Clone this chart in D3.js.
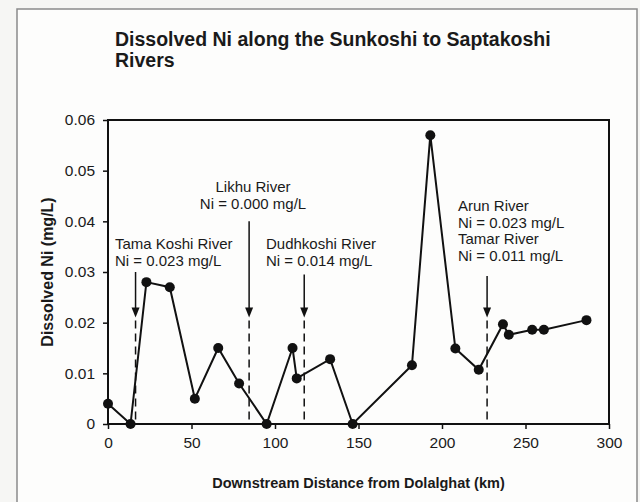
<!DOCTYPE html>
<html>
<head>
<meta charset="utf-8">
<script src="https://cdn.jsdelivr.net/npm/d3@7"></script>
<style>
  html, body { margin: 0; padding: 0; background: #f6f6f4; }
  svg { display: block; }
  text { font-family: "Liberation Sans", Arial, sans-serif; fill: #1a1a1a; }
</style>
</head>
<body>
<svg id="chart" width="640" height="502"></svg>
<script>
// ---- data ----
const distanceKm = [0, 13.5, 23, 37, 52, 66, 78.5, 95, 110.5, 113, 133, 146.5, 182, 193, 208, 222, 236.5, 240, 254, 261, 286.5];
const dissolvedNi = [0.004, 0, 0.028, 0.027, 0.005, 0.015, 0.008, 0, 0.015, 0.009, 0.0128, 0, 0.0116, 0.057, 0.0149, 0.0107, 0.0197, 0.0176, 0.0186, 0.0186, 0.0205];

const tributaryKm = [16.5, 84.5, 117.5, 227];
const tributaryTop = [0.03, 0.04, 0.0295, 0.0292];
const tributaryLines = [
  ["Tama Koshi River", "Ni = 0.023 mg/L"],
  ["Likhu River", "Ni = 0.000 mg/L"],
  ["Dudhkoshi River", "Ni = 0.014 mg/L"],
  ["Arun River", "Ni = 0.023 mg/L", "Tamar River", "Ni = 0.011 mg/L"]
];
const arrowTipValue = 0.021;

const xTicks = [0, 50, 100, 150, 200, 250, 300];
const yTicks = [0, 0.01, 0.02, 0.03, 0.04, 0.05, 0.06];
const yTickLabels = ["0", "0.01", "0.02", "0.03", "0.04", "0.05", "0.06"];

const titleLines = ["Dissolved Ni along the Sunkoshi to Saptakoshi", "Rivers"];
const xTitle = "Downstream Distance from Dolalghat (km)";
const yTitle = "Dissolved Ni (mg/L)";

// ---- layout ----
const svg = d3.select("#chart");
const L = 108, R = 609, T = 120, B = 424;
const x = d3.scaleLinear().domain([0, 300]).range([L, R]);
const y = d3.scaleLinear().domain([0, 0.06]).range([B, T]);

// outer frame
svg.append("rect").attr("x", 17).attr("y", 9).attr("width", 620).attr("height", 500)
  .attr("fill", "#fdfdfc").attr("stroke", "#8a8a8a").attr("stroke-width", 1.5);

// title
const title = svg.append("text").attr("x", 115).attr("y", 46)
  .style("font-weight", "bold").style("font-size", "19.5px");
titleLines.forEach((t, i) => title.append("tspan").attr("x", 115).attr("dy", i ? 21 : 0).text(t));

// plot frame
svg.append("rect").attr("x", L).attr("y", T).attr("width", R - L).attr("height", B - T)
  .attr("fill", "none").attr("stroke", "#111").attr("stroke-width", 2);

// axes
const xAxis = svg.append("g").attr("transform", `translate(0,${B})`)
  .call(d3.axisBottom(x).tickValues(xTicks).tickSize(5).tickPadding(8).tickFormat(d3.format("d")));
const yAxis = svg.append("g").attr("transform", `translate(${L},0)`)
  .call(d3.axisLeft(y).tickValues(yTicks).tickSize(5).tickPadding(8).tickFormat((d, i) => yTickLabels[i]));
[xAxis, yAxis].forEach(g => {
  g.select(".domain").remove();
  g.selectAll("line").attr("stroke", "#111").attr("stroke-width", 1.5);
  g.selectAll("text").style("font-size", "15.5px").style("font-family", "Liberation Sans, Arial, sans-serif").attr("fill", "#1a1a1a");
});

// axis titles
svg.append("text").attr("x", (L + R) / 2).attr("y", 488).attr("text-anchor", "middle")
  .style("font-weight", "bold").style("font-size", "14.5px").text(xTitle);
svg.append("text").attr("transform", `translate(53,${(T + B) / 2}) rotate(-90)`).attr("text-anchor", "middle")
  .style("font-weight", "bold").style("font-size", "16px").text(yTitle);

// tributary arrows
const ag = svg.append("g");
tributaryKm.forEach((km, i) => {
  const px = x(km);
  const tip = y(arrowTipValue);
  ag.append("line").attr("x1", px).attr("x2", px).attr("y1", y(tributaryTop[i])).attr("y2", tip - 8)
    .attr("stroke", "#111").attr("stroke-width", 1.5);
  ag.append("path").attr("d", `M${px - 4},${tip - 10} L${px + 4},${tip - 10} L${px},${tip} Z`).attr("fill", "#111");
  ag.append("line").attr("x1", px).attr("x2", px).attr("y1", tip + 3).attr("y2", B)
    .attr("stroke", "#111").attr("stroke-width", 1.5).attr("stroke-dasharray", "8,5");
});

// tributary labels
const labelPos = [
  {x: 115, y: 249, anchor: "start"},
  {x: 253, y: 192, anchor: "middle"},
  {x: 266, y: 249, anchor: "start"},
  {x: 458, y: 211, anchor: "start"}
];
tributaryLines.forEach((lines, i) => {
  const t = svg.append("text").attr("x", labelPos[i].x).attr("y", labelPos[i].y)
    .attr("text-anchor", labelPos[i].anchor).style("font-size", "15px");
  lines.forEach((s, j) => t.append("tspan").attr("x", labelPos[i].x).attr("dy", j ? 16.5 : 0).text(s));
});

// data line and points
const pts = distanceKm.map((d, i) => [d, dissolvedNi[i]]);
svg.append("path").datum(pts)
  .attr("d", d3.line().x(d => x(d[0])).y(d => y(d[1])))
  .attr("fill", "none").attr("stroke", "#111").attr("stroke-width", 2);
svg.append("g").selectAll("circle").data(pts).join("circle")
  .attr("cx", d => x(d[0])).attr("cy", d => y(d[1])).attr("r", 5).attr("fill", "#111");
</script>
</body>
</html>
